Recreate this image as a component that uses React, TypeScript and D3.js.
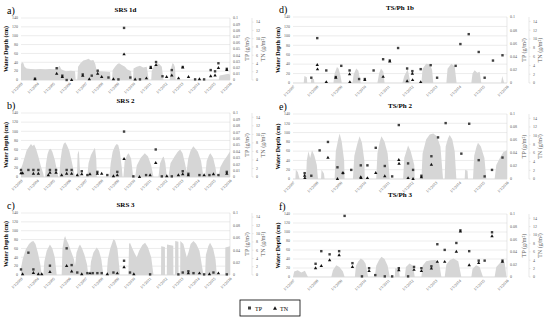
import * as d3 from 'd3'

type Pt = [number, number]

// x-axis years (tick labels 1/1/YYYY)
const srsYears = [2003, 2004, 2005, 2006, 2007, 2008, 2009, 2010, 2011, 2012, 2013, 2014, 2015, 2016]
const tsYears = [2007, 2008, 2009, 2010, 2011, 2012, 2013, 2014, 2015, 2016]
const depthTicks = [0, 20, 40, 60, 80, 100, 120, 140]
const tpTicksFine = [0, 0.01, 0.02, 0.03, 0.04, 0.05, 0.06, 0.07, 0.08, 0.09, 0.1]
const tpTicksCoarse = [0, 0.02, 0.04, 0.06, 0.08, 0.1]
const tnTicks = [0, 2, 4, 6, 8, 10, 12, 14]

// water depth (cm) by decimal year
const srs1dDepth: Pt[] = [[2003.0,36],[2003.08,40],[2003.15,38],[2003.22,30],[2003.35,26],[2003.6,25],[2003.9,24],[2004.2,25],[2004.5,24],[2004.8,25],[2005.1,24],[2005.3,28],[2005.4,32],[2005.5,24],[2005.63,22],[2005.8,20],[2006.1,21],[2006.36,20],[2006.4,0],[2006.5,0],[2006.55,30],[2006.7,38],[2006.88,44],[2007.05,46],[2007.2,48],[2007.35,44],[2007.5,45],[2007.62,36],[2007.7,22],[2007.9,20],[2008.2,19],[2008.54,18],[2008.58,0],[2008.66,0],[2008.7,22],[2008.85,30],[2009.0,36],[2009.1,38],[2009.27,34],[2009.47,30],[2009.6,24],[2009.85,20],[2009.9,0],[2009.97,0],[2010.0,26],[2010.2,30],[2010.4,32],[2010.6,28],[2010.82,30],[2010.95,0],[2011.1,0],[2011.13,20],[2011.3,34],[2011.45,38],[2011.6,36],[2011.76,30],[2011.86,0],[2012.25,0],[2012.3,22],[2012.42,38],[2012.5,36],[2012.58,28],[2012.62,0],[2015.3,0],[2015.35,10],[2015.6,12],[2015.9,14],[2016,12]]
const srs2Depth: Pt[] = [[2003.0,18],[2003.1,28],[2003.2,40],[2003.35,58],[2003.5,66],[2003.62,72],[2003.72,68],[2003.82,71],[2003.95,60],[2004.1,42],[2004.25,22],[2004.38,8],[2004.42,0],[2004.5,0],[2004.55,28],[2004.65,50],[2004.75,60],[2004.85,62],[2004.95,55],[2005.1,38],[2005.25,12],[2005.32,0],[2005.38,0],[2005.45,35],[2005.55,60],[2005.65,72],[2005.75,76],[2005.85,70],[2006.0,58],[2006.15,35],[2006.3,10],[2006.36,0],[2006.48,0],[2006.52,50],[2006.6,58],[2006.66,20],[2006.7,0],[2007.12,0],[2007.2,30],[2007.35,48],[2007.5,58],[2007.6,64],[2007.68,40],[2007.72,0],[2008.5,0],[2008.58,30],[2008.7,55],[2008.85,68],[2008.95,72],[2009.05,70],[2009.15,55],[2009.27,20],[2009.32,0],[2009.37,0],[2009.45,35],[2009.6,48],[2009.7,52],[2009.85,40],[2009.98,0],[2010.1,0],[2010.2,25],[2010.45,42],[2010.7,52],[2010.9,45],[2011.1,25],[2011.24,0],[2011.55,0],[2011.65,30],[2011.8,42],[2011.88,45],[2011.98,30],[2012.07,0],[2012.17,0],[2012.3,30],[2012.55,45],[2012.75,55],[2012.9,60],[2013.05,52],[2013.2,30],[2013.3,12],[2013.4,40],[2013.55,58],[2013.72,67],[2013.85,62],[2014.0,55],[2014.2,35],[2014.35,0],[2014.45,0],[2014.55,35],[2014.7,48],[2014.78,52],[2014.95,42],[2015.1,20],[2015.18,0],[2015.28,0],[2015.4,22],[2015.6,35],[2015.8,45],[2016.0,56]]
const srs3Depth: Pt[] = [[2003.0,15],[2003.1,35],[2003.3,58],[2003.5,70],[2003.65,75],[2003.77,77],[2003.9,70],[2004.05,50],[2004.2,25],[2004.29,0],[2004.39,0],[2004.45,30],[2004.6,55],[2004.8,69],[2004.95,60],[2005.1,40],[2005.22,0],[2005.53,0],[2005.58,60],[2005.68,82],[2005.74,88],[2005.82,80],[2005.95,70],[2006.1,55],[2006.3,35],[2006.36,20],[2006.45,50],[2006.6,65],[2006.67,69],[2006.8,60],[2006.95,45],[2007.1,25],[2007.19,0],[2007.29,0],[2007.35,30],[2007.5,50],[2007.71,62],[2007.85,55],[2008.0,35],[2008.12,0],[2008.33,0],[2008.4,35],[2008.55,60],[2008.75,81],[2008.85,78],[2009.0,60],[2009.16,0],[2009.68,0],[2009.72,70],[2009.78,73],[2009.9,62],[2010.05,50],[2010.2,40],[2010.35,55],[2010.55,68],[2010.72,73],[2010.9,62],[2011.1,40],[2011.24,0],[2011.71,0],[2011.72,65],[2011.95,63],[2011.96,0],[2012.07,0],[2012.08,69],[2012.47,66],[2012.48,0],[2012.58,0],[2012.59,77],[2012.79,75],[2012.8,0],[2012.9,0],[2012.91,77],[2013.1,70],[2013.31,40],[2013.41,50],[2013.55,70],[2013.73,77],[2013.9,70],[2014.1,55],[2014.35,0],[2014.45,0],[2014.5,45],[2014.65,65],[2014.76,73],[2014.95,60],[2015.1,35],[2015.18,0],[2015.7,0],[2015.71,62],[2016,65]]
const ts1bDepth: Pt[] = [[2007.45,0],[2007.48,15],[2007.58,12],[2007.6,0],[2007.75,0],[2007.77,10],[2007.88,8],[2007.9,0],[2008.7,0],[2008.75,20],[2008.85,34],[2008.92,30],[2009.0,15],[2009.05,0],[2009.5,0],[2009.55,18],[2009.66,31],[2009.75,26],[2009.85,0],[2010.55,0],[2010.62,20],[2010.7,31],[2010.8,24],[2010.85,0],[2011.6,0],[2011.68,15],[2011.77,24],[2011.82,30],[2011.9,10],[2011.95,0],[2012.4,0],[2012.45,30],[2012.6,41],[2012.75,40],[2012.85,28],[2012.9,0],[2013.45,0],[2013.5,30],[2013.66,41],[2013.8,35],[2013.88,0],[2014.5,0],[2014.55,20],[2014.64,27],[2014.75,22],[2014.85,24],[2014.92,0],[2015.75,0],[2015.8,15],[2015.88,0]]
const ts2Depth: Pt[] = [[2007.1,0],[2007.12,20],[2007.2,15],[2007.28,0],[2007.55,0],[2007.58,40],[2007.65,60],[2007.72,45],[2007.8,62],[2007.9,50],[2008.0,30],[2008.05,0],[2008.18,0],[2008.2,20],[2008.3,12],[2008.33,0],[2008.75,0],[2008.8,60],[2008.9,85],[2008.96,98],[2009.05,80],[2009.15,40],[2009.17,0],[2009.52,0],[2009.58,50],[2009.7,75],[2009.8,92],[2009.9,78],[2010.0,40],[2010.02,0],[2010.5,0],[2010.55,55],[2010.65,80],[2010.72,92],[2010.85,80],[2010.98,55],[2011.07,0],[2011.63,0],[2011.68,45],[2011.78,62],[2011.84,72],[2011.95,60],[2012.1,30],[2012.12,0],[2012.4,0],[2012.45,55],[2012.6,85],[2012.75,96],[2012.9,98],[2013.05,92],[2013.2,70],[2013.31,0],[2013.38,0],[2013.42,70],[2013.52,88],[2013.59,95],[2013.7,85],[2013.8,60],[2013.87,0],[2014.22,0],[2014.24,20],[2014.34,18],[2014.36,0],[2014.57,0],[2014.62,50],[2014.72,70],[2014.78,78],[2014.9,70],[2015.05,45],[2015.13,0],[2015.48,0],[2015.55,30],[2015.7,45],[2015.85,58],[2016.0,62]]
const ts3Depth: Pt[] = [[2007.0,0],[2007.05,12],[2007.2,15],[2007.35,10],[2007.5,14],[2007.63,0],[2008.61,0],[2008.68,15],[2008.82,26],[2008.95,22],[2009.1,12],[2009.17,0],[2009.6,0],[2009.65,25],[2009.75,35],[2009.85,41],[2009.95,38],[2010.05,30],[2010.16,0],[2010.44,0],[2010.5,25],[2010.62,38],[2010.72,45],[2010.85,40],[2010.98,25],[2011.07,0],[2011.28,0],[2011.3,20],[2011.45,18],[2011.49,0],[2011.7,0],[2011.75,22],[2011.9,30],[2012.05,25],[2012.12,0],[2012.4,0],[2012.45,25],[2012.6,35],[2012.8,37],[2013.0,38],[2013.15,30],[2013.24,0],[2013.38,0],[2013.45,28],[2013.6,38],[2013.75,41],[2013.95,35],[2014.08,0],[2014.5,0],[2014.55,18],[2014.7,26],[2014.85,22],[2014.99,0],[2015.48,0],[2015.55,22],[2015.75,34],[2015.9,32],[2015.98,0]]

// TP (g/m2) and TN (g/m2) samples by decimal year
const srs1dTP: Pt[] = [[2003.87,0.002],[2005.22,0.019],[2005.57,0.007],[2005.84,0.0],[2006.84,0.009],[2007.4,0.007],[2007.77,0.015],[2008.44,0.004],[2009.06,0.001],[2009.41,0.084],[2009.8,0.004],[2010.4,0.001],[2011.07,0.021],[2011.4,0.029],[2011.8,0.006],[2012.38,0.016],[2013.06,0.021],[2013.83,0.001],[2014.39,0.001],[2014.8,0.016],[2015.07,0.014],[2015.28,0.027],[2015.8,0.018]]
const srs1dTN: Pt[] = [[2003.87,0.2],[2005.22,1.5],[2005.57,0.75],[2006.15,0],[2006.84,1.0],[2007.25,0.2],[2007.77,1.5],[2008.02,0.75],[2008.75,0.2],[2009.41,6.2],[2010.1,0.1],[2010.8,0.4],[2011.07,2.9],[2011.4,3.6],[2012.06,0.75],[2012.38,1.1],[2012.8,0.4],[2013.06,3.0],[2013.42,0.75],[2014.1,0.2],[2014.8,0.9],[2015.07,1.1],[2015.28,2.9],[2015.8,2.4]]
const srs2TP: Pt[] = [[2003.0,0.011],[2003.46,0.011],[2003.77,0.011],[2004.08,0.011],[2004.8,0.011],[2005.18,0.011],[2005.84,0.011],[2006.15,0.011],[2006.78,0.009],[2007.13,0.003],[2007.75,0.008],[2008.37,0.003],[2008.99,0.008],[2009.41,0.071],[2009.99,0.001],[2010.78,0.003],[2011.38,0.043],[2011.76,0.001],[2012.38,0.001],[2013.06,0.009],[2013.41,0.005],[2014.1,0.003],[2014.72,0.003],[2015.28,0.003],[2015.8,0.008]]
const srs2TN: Pt[] = [[2003.0,0.9],[2003.1,0.9],[2003.77,0.75],[2004.08,0.75],[2004.7,0.4],[2004.8,1.0],[2005.18,1.0],[2005.53,0.4],[2005.84,0.75],[2006.15,0.75],[2006.5,0.4],[2006.78,0.65],[2007.29,0.65],[2007.75,0.75],[2008.02,0.75],[2008.75,0.2],[2008.99,0.4],[2009.41,4.2],[2010.37,0],[2011.03,0.4],[2011.38,3.3],[2012.07,0.2],[2012.79,0.4],[2013.06,0.65],[2013.41,0.4],[2014.39,0.4],[2014.97,0.65],[2015.8,0.75]]
const srs3TP: Pt[] = [[2003.0,0.009],[2003.46,0.036],[2003.77,0.009],[2004.8,0.015],[2005.84,0.043],[2006.15,0.016],[2006.5,0.004],[2007.13,0.003],[2007.46,0.003],[2007.75,0.003],[2008.02,0.003],[2008.75,0.004],[2009.41,0.023],[2009.78,0.004],[2011.03,0.001],[2012.79,0.001],[2013.06,0.004],[2013.41,0.006],[2013.73,0.003],[2014.39,0.001],[2014.97,0.004],[2015.8,0.001]]
const srs3TN: Pt[] = [[2003.1,0.2],[2003.77,0.5],[2004.08,0.2],[2004.29,0.2],[2004.8,0.75],[2005.84,2.2],[2006.15,0.85],[2006.78,0.2],[2007.29,0.4],[2008.37,0.2],[2008.99,0.4],[2009.41,1.9],[2010.02,0.2],[2013.41,0.4],[2014.1,0.4],[2014.72,0.2],[2015.28,0.4]]
const ts1bTP: Pt[] = [[2007.77,0.008],[2008.02,0.068],[2008.4,0.019],[2008.8,0.009],[2009.03,0.026],[2009.38,0.019],[2009.78,0.006],[2010.02,0.006],[2010.39,0.019],[2010.79,0.036],[2011.07,0.034],[2011.42,0.053],[2011.8,0.022],[2012.02,0.018],[2012.37,0.021],[2012.79,0.027],[2013.06,0.008],[2013.84,0.026],[2014.04,0.059],[2014.39,0.074],[2014.81,0.047],[2015.06,0.008],[2015.41,0.034],[2015.81,0.042]]
const ts1bTN: Pt[] = [[2008.02,4.1],[2008.03,3.1],[2008.4,0.2],[2008.8,1.2],[2009.38,2.0],[2009.39,0.2],[2010.02,0.65],[2010.79,1.4],[2011.07,4.9],[2011.8,0.4],[2012.02,2.1],[2012.03,0.65],[2012.37,0.2]]
const ts2TP: Pt[] = [[2007.49,0.009],[2007.77,0.005],[2008.12,0.044],[2008.47,0.057],[2008.87,0.018],[2009.1,0.009],[2009.45,0.014],[2009.85,0.021],[2010.13,0.021],[2010.48,0.048],[2010.86,0.02],[2011.17,0.004],[2011.45,0.083],[2011.84,0.024],[2012.05,0.014],[2012.4,0.005],[2012.82,0.035],[2013.1,0.064],[2013.42,0.086],[2014.08,0.039],[2014.41,0.085],[2014.81,0.029],[2015.06,0.004],[2015.37,0.014],[2015.81,0.033]]
const ts2TN: Pt[] = [[2007.49,0.75],[2007.5,0.2],[2008.47,4.9],[2008.87,0],[2009.1,1.4],[2009.85,0.4],[2009.86,0.2],[2010.13,0.2],[2010.48,1.4],[2010.86,0.65],[2011.45,4.4],[2011.46,3.5],[2011.84,0.2],[2012.05,0],[2012.4,0.4],[2012.82,3.3]]
const ts3TP: Pt[] = [[2007.95,0.021],[2008.19,0.041],[2008.54,0.036],[2008.94,0.041],[2009.17,0.097],[2009.5,0.022],[2009.9,0.001],[2010.2,0.014],[2010.46,0.003],[2010.86,0.001],[2011.17,0.001],[2011.45,0.014],[2011.84,0.001],[2012.09,0.016],[2012.4,0.014],[2012.82,0.017],[2013.07,0.052],[2013.38,0.043],[2013.87,0.054],[2014.04,0.074],[2014.41,0.041],[2014.81,0.026],[2015.06,0.026],[2015.37,0.071],[2015.81,0.026]]
const ts3TN: Pt[] = [[2007.95,2.1],[2008.19,2.6],[2008.54,4.0],[2008.94,5.2],[2009.5,2.4],[2010.2,1.4],[2011.45,1.6],[2012.09,1.7],[2012.4,1.4],[2012.82,2.0],[2013.07,3.6],[2013.38,3.6],[2013.87,6.0],[2014.04,10.8],[2014.41,2.8],[2014.81,3.3],[2015.37,9.7],[2015.81,3.6]]

const SERIF = '"Liberation Serif", "DejaVu Serif", serif'
const AREA = '#d6d6d6'
const GRID = '#d9d9d9'
const AXIS_TXT = '#595959'

type PanelProps = {
    tag: string, title: string, titleY: number,
    x0: number, x1: number, top: number, bottom: number,
    years: number[], tpTicks: number[],
    depth: Pt[], tp: Pt[], tn: Pt[]
}

const Panel = (p: PanelProps) => {
    const x = d3.scaleLinear().domain([p.years[0], p.years[p.years.length - 1]]).range([p.x0, p.x1])
    const y = d3.scaleLinear().domain([0, 140]).range([p.bottom, p.top])
    const yTP = d3.scaleLinear().domain([0, 0.1]).range([p.bottom, p.top])
    const yTN = d3.scaleLinear().domain([0, 15]).range([p.bottom, p.top])

    const area = d3.area<Pt>().x(d => x(d[0])).y0(y(0)).y1(d => y(d[1]))
    const tri = d3.symbol().type(d3.symbolTriangle).size(5)()

    const tpX = p.x1 + 3
    const tnLine = p.x1 + 22
    const midY = (p.top + p.bottom) / 2

    return (
        <g>
            <text x={p.x0 - 14} y={p.top - 4} fontSize={10} fontFamily={SERIF}>{p.tag}</text>
            <text x={(p.x0 + p.x1) / 2} y={p.titleY} fontSize={7} fontWeight="bold"
                fontFamily={SERIF} textAnchor="middle">{p.title}</text>

            {depthTicks.map(t => (
                <g key={'g' + t}>
                    <line x1={p.x0} x2={p.x1} y1={y(t)} y2={y(t)} stroke={GRID} strokeWidth={0.5} />
                    <text x={p.x0 - 3} y={y(t) + 1.3} fontSize={4} fill={AXIS_TXT}
                        fontFamily={SERIF} textAnchor="end">{t}</text>
                </g>
            ))}

            <path d={area(p.depth) as string} fill={AREA} />
            <line x1={p.x1} x2={p.x1} y1={p.top} y2={p.bottom} stroke={GRID} strokeWidth={0.6} />
            <line x1={p.x0} x2={p.x1} y1={p.bottom} y2={p.bottom} stroke={GRID} strokeWidth={0.6} />

            {p.tp.map((d, i) => (
                <rect key={'p' + i} x={x(d[0]) - 1.2} y={yTP(d[1]) - 1.2} width={2.4} height={2.4} fill="#404040" />
            ))}
            {p.tn.map((d, i) => (
                <path key={'n' + i} d={tri as string} transform={`translate(${x(d[0])},${yTN(d[1])})`} fill="#111" />
            ))}

            {p.years.map(yr => (
                <text key={'x' + yr} fontSize={4} fill={AXIS_TXT} fontFamily={SERIF} textAnchor="end"
                    transform={`translate(${x(yr) + 2},${p.bottom + 4}) rotate(-45)`}>{`1/1/${yr}`}</text>
            ))}

            <text transform={`translate(${p.x0 - 13},${midY}) rotate(-90)`} fontSize={6} fontWeight="bold"
                fontFamily={SERIF} textAnchor="middle">Water Depth (cm)</text>

            {p.tpTicks.map(t => (
                <text key={'tp' + t} x={tpX} y={yTP(t) + 1.3} fontSize={4} fill={AXIS_TXT}
                    fontFamily={SERIF}>{String(+t.toFixed(2))}</text>
            ))}
            <text transform={`translate(${p.x1 + 19},${midY}) rotate(-90)`} fontSize={6}
                fill={AXIS_TXT} fontFamily={SERIF} textAnchor="middle">TP (g/m²)</text>

            <line x1={tnLine} x2={tnLine} y1={p.top} y2={p.bottom} stroke={GRID} strokeWidth={0.6} />
            {tnTicks.map(t => (
                <g key={'tn' + t}>
                    <line x1={tnLine} x2={tnLine + 1.5} y1={yTN(t)} y2={yTN(t)} stroke={GRID} strokeWidth={0.6} />
                    <text x={tnLine + 4} y={yTN(t) + 1.3} fontSize={4} fill={AXIS_TXT} fontFamily={SERIF}>{t}</text>
                </g>
            ))}
            <text transform={`translate(${tnLine + 13},${midY}) rotate(-90)`} fontSize={6}
                fill={AXIS_TXT} fontFamily={SERIF} textAnchor="middle">TN (g/m²)</text>
        </g>
    )
}

export default function App() {
    const L = { x0: 21, x1: 230, years: srsYears }
    const R = { x0: 293, x1: 507, years: tsYears }
    const tri = d3.symbol().type(d3.symbolTriangle).size(7)()
    return (
        <svg width={550} height={320} style={{ position: 'absolute', left: 0, top: 0, background: '#fff' }}>
            <Panel {...L} tag="a)" title="SRS 1d" titleY={12} top={18} bottom={80}
                tpTicks={tpTicksFine} depth={srs1dDepth} tp={srs1dTP} tn={srs1dTN} />
            <Panel {...L} tag="b)" title="SRS 2" titleY={103} top={113} bottom={177}
                tpTicks={tpTicksFine} depth={srs2Depth} tp={srs2TP} tn={srs2TN} />
            <Panel {...L} tag="c)" title="SRS 3" titleY={207} top={213} bottom={275}
                tpTicks={tpTicksCoarse} depth={srs3Depth} tp={srs3TP} tn={srs3TN} />
            <Panel {...R} tag="d)" title="TS/Ph 1b" titleY={10} top={17} bottom={83}
                tpTicks={tpTicksCoarse} depth={ts1bDepth} tp={ts1bTP} tn={ts1bTN} />
            <Panel {...R} tag="e)" title="TS/Ph 2" titleY={108} top={114} bottom={179}
                tpTicks={tpTicksCoarse} depth={ts2Depth} tp={ts2TP} tn={ts2TN} />
            <Panel {...R} tag="f)" title="TS/Ph 3" titleY={197} top={214} bottom={277}
                tpTicks={tpTicksCoarse} depth={ts3Depth} tp={ts3TP} tn={ts3TN} />

            <g>
                <rect x={240} y={300} width={60} height={16} fill="none" stroke="#000" strokeWidth={0.8} />
                <rect x={248} y={306.5} width={3} height={3} fill="#404040" />
                <text x={255} y={310.5} fontSize={6} fontFamily={SERIF}>TP</text>
                <path d={tri as string} transform="translate(275,308.5)" fill="#111" />
                <text x={280} y={310.5} fontSize={6} fontFamily={SERIF}>TN</text>
            </g>
        </svg>
    )
}
